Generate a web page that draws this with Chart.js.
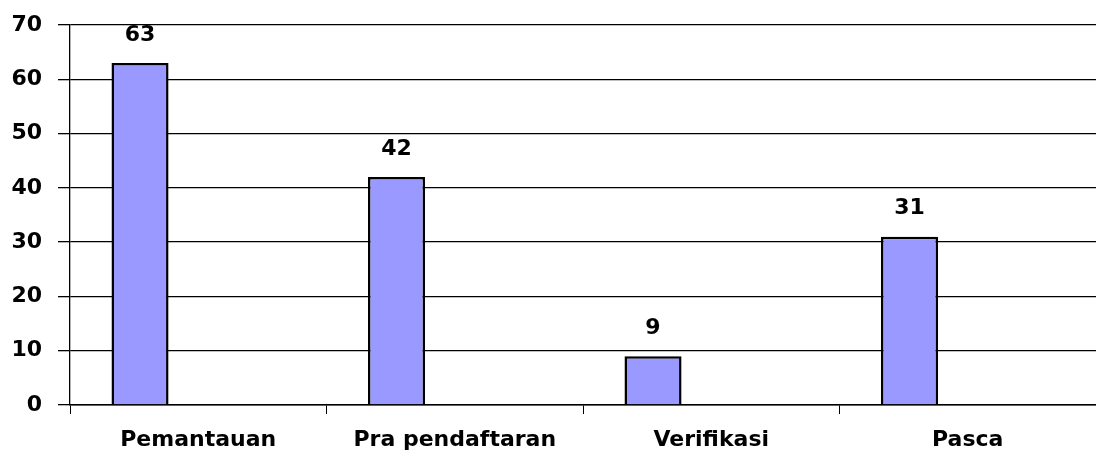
<!DOCTYPE html>
<html>
<head>
<meta charset="utf-8">
<script src="https://cdn.jsdelivr.net/npm/chart.js@4/dist/chart.umd.min.js"></script>
<style>
  html, body { margin: 0; padding: 0; background: #fff; }
  #wrap { width: 1096px; height: 457px; }
</style>
</head>
<body>
<div id="wrap"><canvas id="chart"></canvas></div>
<script>
const categories = ["Pemantauan", "Pra pendaftaran", "Verifikasi", "Pasca"];
const values = [63, 42, 9, 31];
const emptySlot = [null, null, null, null]; // second (empty) series slot, as in the original sheet
const yTicks = [0, 10, 20, 30, 40, 50, 60, 70];

const FONT = "'DejaVu Sans', Verdana, sans-serif";

// 数値ラベルを棒の上に描く
const valueLabels = {
  id: "valueLabels",
  afterDatasetsDraw(chart) {
    const ctx = chart.ctx;
    const meta = chart.getDatasetMeta(0);
    ctx.save();
    ctx.font = "bold 22px " + FONT;
    ctx.fillStyle = "#000";
    ctx.textAlign = "center";
    ctx.textBaseline = "bottom";
    meta.data.forEach((bar, i) => {
      ctx.fillText(String(values[i]), bar.x, bar.y - 17);
    });
    ctx.restore();
  },
};

const ctx = document.getElementById("chart").getContext("2d");
new Chart(ctx, {
  type: "bar",
  data: {
    labels: categories,
    datasets: [
      {
        data: values,
        backgroundColor: "#9999FF",
        borderColor: "#000000",
        borderWidth: 2.5,
        categoryPercentage: 0.908,
        barPercentage: 0.49,
      },
      {
        data: emptySlot,
        categoryPercentage: 0.908,
        barPercentage: 0.49,
      },
    ],
  },
  options: {
    responsive: true,
    maintainAspectRatio: false,
    animation: false,
    layout: { padding: { top: 25, right: 0, left: 0, bottom: 0 } },
    plugins: {
      legend: { display: false },
      tooltip: { enabled: false },
    },
    scales: {
      x: {
        offset: true,
        afterFit: (axis) => {
          axis.height = 52;
        },
        grid: {
          offset: true,
          drawOnChartArea: false,
          drawTicks: true,
          tickLength: 9,
          color: "#000",
          lineWidth: 1,
        },
        border: { color: "#000", width: 1.5 },
        ticks: {
          color: "#000",
          font: { family: FONT, size: 22, weight: "bold" },
          padding: 13,
          maxRotation: 0,
        },
      },
      y: {
        min: 0,
        max: 70,
        afterFit: (axis) => {
          axis.width = 70;
          axis.paddingTop = 0;
          axis.paddingBottom = 0;
        },
        afterBuildTicks: (axis) => {
          axis.ticks = yTicks.map((v) => ({ value: v }));
        },
        grid: {
          color: "#000",
          lineWidth: 1.3,
          tickLength: 12,
        },
        border: { color: "#000", width: 1.3 },
        ticks: {
          color: "#000",
          font: { family: FONT, size: 22, weight: "bold" },
          padding: 16,
        },
      },
    },
  },
  plugins: [valueLabels],
});
</script>
</body>
</html>
